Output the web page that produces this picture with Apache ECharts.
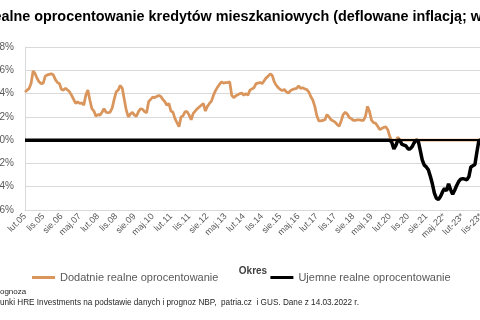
<!DOCTYPE html>
<html>
<head>
<meta charset="utf-8">
<script src="https://cdn.jsdelivr.net/npm/echarts@6/dist/echarts.min.js"></script>
<style>
  html, body { margin: 0; padding: 0; background: #fff; }
  #chart { width: 480px; height: 320px; }
</style>
</head>
<body>
<div id="chart"></div>
<script>
// nazwy miesięcy do etykiet osi
const miesiace = ["sty", "lut", "mar", "kwi", "maj", "cze", "lip", "sie", "wrz", "paź", "lis", "gru"];

// realne oprocentowanie, co miesiąc od lut.05 do lis.23 (w %)
const realne = [
  4.14, 4.29, 4.43, 4.86, 5.94, 5.71, 5.29, 5.0, 4.86, 4.9,
  5.5, 5.6, 5.65, 5.7, 5.6, 5.2, 4.95, 4.85, 4.35, 4.3,
  4.45, 4.3, 4.15, 3.85, 3.5, 3.15, 3.3, 3.15, 3.2, 3.0,
  3.85, 4.3, 3.45, 2.7, 2.5, 2.05, 2.2, 2.15, 2.4, 2.7,
  2.4, 2.35, 2.4, 2.75, 3.5, 4.15, 4.3, 4.7, 4.45, 3.5,
  2.55, 2.0, 2.25, 2.4, 2.15, 2.05, 2.45, 2.7, 2.65, 2.45,
  2.35, 3.3, 3.5, 3.7, 3.65, 3.75, 3.85, 3.75, 3.5, 3.3,
  3.0, 3.15, 2.5, 2.4, 1.85, 1.5, 1.15, 2.0, 2.1, 2.45,
  2.45, 2.15, 1.75, 2.3, 2.5, 2.7, 2.85, 3.0, 3.15, 2.5,
  2.9, 3.15, 3.35, 3.85, 4.25, 4.55, 4.8, 5.0, 4.9, 4.95,
  4.95, 5.0, 3.85, 3.65, 3.8, 3.9, 4.0, 4.05, 3.85, 4.0,
  3.85, 4.3, 4.4, 4.5, 4.85, 4.9, 4.95, 4.85, 5.1, 5.35,
  5.5, 5.7, 5.55, 5.0, 4.7, 4.5, 4.35, 4.25, 4.35, 4.15,
  4.05, 4.25, 4.35, 4.4, 4.45, 4.65, 4.45, 4.5, 4.4, 4.35,
  4.15, 3.75, 3.45, 2.9, 2.1, 1.65, 1.65, 1.7, 1.75, 2.2,
  2.0, 1.75, 1.65, 1.55, 1.35, 1.2, 1.65, 2.2, 2.4, 2.25,
  1.95, 1.85, 1.7, 1.7, 1.75, 1.75, 1.7, 1.7, 2.05, 2.9,
  2.45, 1.7, 1.5, 1.45, 1.2, 0.9, 1.0, 1.1, 1.15, 0.9,
  0.3, -0.2, -0.75, -0.45, 0.25, 0.0, -0.37, -0.43, -0.5, -0.75,
  -0.75, -0.57, -0.23, 0.0, -0.05, -0.85, -1.7, -2.15, -2.3, -2.55,
  -3.1, -3.75, -4.55, -5.0, -5.1, -4.85, -4.45, -4.15, -4.35, -3.75,
  -4.25, -4.65, -4.3, -3.9, -3.55, -3.35, -3.3, -3.35, -3.4, -3.15,
  -2.3, -2.2, -2.1, -1.0, 0, 0
];

// dwie serie: dodatnia (ucięta do 0) i ujemna (ucięta do 0)
const dodatnie = realne.map(v => Math.max(v, 0));
const ujemne = realne.map(v => Math.min(v, 0));

// kategorie: lut.05 ... lis-23*
const okresy = [];
for (let i = 0; i < realne.length; i++) {
  const m = (1 + i) % 12;
  const rok = 2005 + Math.floor((1 + i) / 12);
  const rr = String(rok % 100).padStart(2, "0");
  let txt;
  if (rok >= 2023) {
    txt = miesiace[m] + "-" + rr + "*";
  } else if (rok === 2022 && m >= 2) {
    txt = miesiace[m] + "." + rr + "*";
  } else {
    txt = miesiace[m] + "." + rr;
  }
  okresy.push(txt);
}

const font = "Liberation Sans, Arial, sans-serif";
const chart = echarts.init(document.getElementById("chart"));

chart.setOption({
  animation: false,
  textStyle: { fontFamily: font },
  grid: {
    left: 25,
    right: -1,
    top: 47,
    bottom: 110,
    outerBoundsMode: "none",
    containLabel: false
  },
  graphic: [
    {
      type: "text",
      left: -17,
      top: 10,
      style: {
        text: "Realne oprocentowanie kredytów mieszkaniowych (deflowane inflacją; w %)",
        font: "bold 14.4px " + font,
        fill: "#000"
      }
    },
    {
      type: "text",
      left: -12.5,
      top: 288,
      style: {
        text: "* prognoza",
        font: "8px " + font,
        fill: "#262626"
      }
    },
    {
      type: "text",
      left: -44.6,
      top: 299,
      style: {
        text: "Źródło: szacunki HRE Investments na podstawie danych i prognoz NBP,  patria.cz  i GUS. Dane z 14.03.2022 r.",
        font: "8.2px " + font,
        fill: "#262626"
      }
    }
  ],
  legend: {
    left: 27,
    top: 267,
    icon: "rect",
    itemWidth: 23,
    itemHeight: 3,
    itemGap: 52,
    textStyle: {
      fontSize: 11,
      color: "#595959",
      fontFamily: font
    },
    data: ["Dodatnie realne oprocentowanie", "Ujemne realne oprocentowanie"]
  },
  xAxis: {
    type: "category",
    data: okresy,
    boundaryGap: false,
    name: "Okres",
    nameLocation: "middle",
    nameGap: 56,
    nameTextStyle: {
      fontWeight: "bold",
      fontSize: 10,
      color: "#404040"
    },
    axisLine: { show: true, onZero: false, lineStyle: { color: "#d9d9d9", width: 1 } },
    axisTick: { show: false },
    splitLine: { show: false },
    axisLabel: {
      interval: 8,
      rotate: 45,
      fontSize: 9,
      margin: 5,
      color: "#595959"
    }
  },
  yAxis: {
    type: "value",
    min: -6,
    max: 8,
    interval: 2,
    axisLine: { show: true, lineStyle: { color: "#d9d9d9", width: 1 } },
    axisTick: { show: false },
    splitLine: { lineStyle: { color: "#d9d9d9", width: 1 } },
    axisLabel: {
      formatter: "{value}%",
      fontSize: 10,
      margin: 11,
      color: "#595959"
    }
  },
  series: [
    {
      name: "Dodatnie realne oprocentowanie",
      type: "line",
      data: dodatnie,
      symbol: "none",
      color: "#d9955b",
      lineStyle: { width: 2.75, color: "#d9955b" },
      z: 2
    },
    {
      name: "Ujemne realne oprocentowanie",
      type: "line",
      data: ujemne,
      symbol: "none",
      color: "#000",
      lineStyle: { width: 3.5, color: "#000" },
      z: 3,
      // linia osi na poziomie 0%
      markLine: {
        silent: true,
        symbol: "none",
        label: { show: false },
        lineStyle: { color: "#000", width: 2.2, type: "solid" },
        data: [{ yAxis: 0 }]
      }
    }
  ]
});
</script>
</body>
</html>
